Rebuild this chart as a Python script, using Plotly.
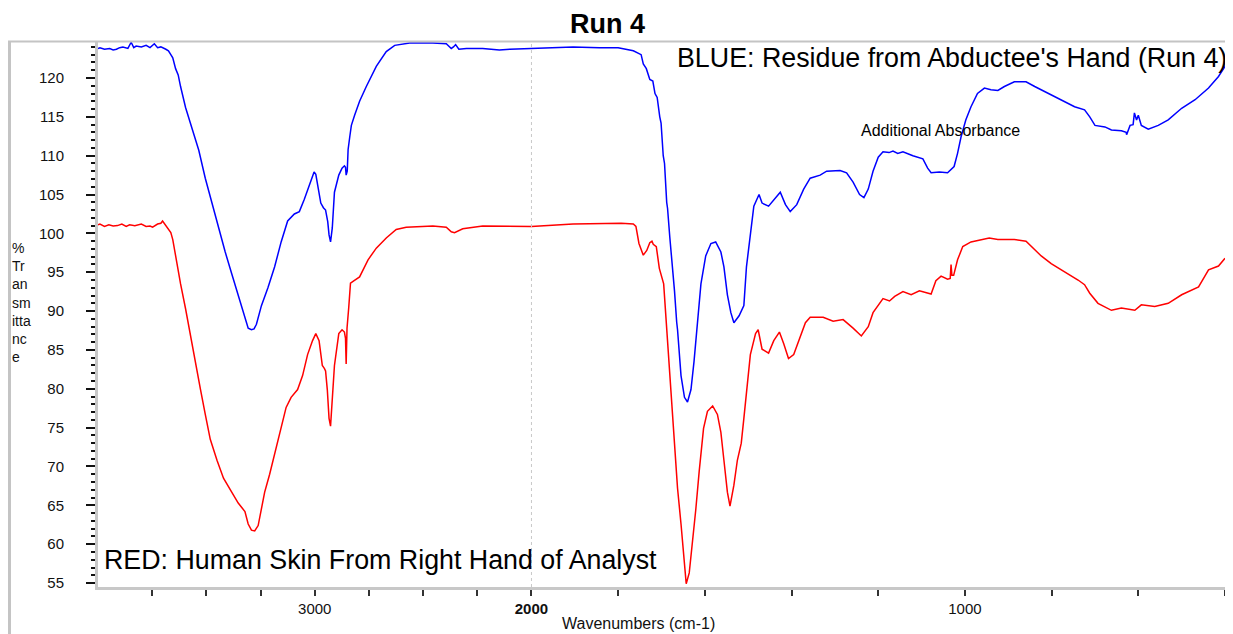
import numpy as np
import plotly.graph_objects as go

# ---------------- data (wavenumber cm-1, %T) ----------------
wn_blue = [4000, 3991, 3970, 3946, 3930, 3915, 3900, 3885, 3862, 3847, 3835, 3824, 3800, 3778,
           3760, 3740, 3725, 3710, 3687, 3675, 3664, 3655, 3642, 3630, 3619, 3596, 3565, 3535,
           3505, 3474, 3444, 3413, 3383, 3353, 3330, 3307, 3292, 3280, 3269, 3246, 3216, 3185,
           3155, 3125, 3094, 3071, 3048, 3026, 3003, 2995, 2988, 2972, 2960, 2950, 2940, 2934,
           2927, 2919, 2909, 2889, 2874, 2863, 2858, 2855, 2850, 2846, 2838, 2831, 2816, 2793,
           2762, 2716, 2670, 2631, 2562, 2455, 2393, 2370, 2360, 2350, 2335, 2300, 2225, 2148,
           2100, 2000, 1904, 1843, 1800, 1765, 1754, 1747, 1742, 1735, 1727, 1720, 1715, 1710,
           1704, 1701, 1696, 1693, 1688, 1686, 1681, 1678, 1673, 1670, 1665, 1663, 1655, 1647,
           1640, 1632, 1625, 1617, 1609, 1598, 1586, 1575, 1563, 1556, 1548, 1540, 1533, 1521,
           1510, 1504, 1495, 1487, 1475, 1468, 1453, 1437, 1426, 1414, 1403, 1388, 1372, 1357,
           1334, 1319, 1288, 1273, 1258, 1243, 1233, 1223, 1212, 1200, 1189, 1175, 1166, 1155,
           1143, 1120, 1097, 1086, 1078, 1059, 1040, 1025, 1017, 1009, 998, 986, 971, 955, 940,
           924, 909, 886, 859, 839, 808, 778, 747, 724, 712, 700, 677, 662, 639, 628, 627, 619,
           612, 609, 604, 600, 593, 577, 554, 531, 500, 469, 438, 415, 400]
t_blue = [123.8, 123.9, 123.7, 123.8, 123.6, 123.7, 123.9, 124.0, 123.8, 124.6, 123.9, 124.1,
          124.0, 124.2, 123.9, 124.4, 123.9, 124.0, 123.7, 123.5, 123.0, 122.6, 121.2, 120.4,
          118.9, 116.2, 113.4, 110.7, 107.1, 103.9, 100.7, 97.6, 94.8, 92.1, 89.8, 87.8, 87.6,
          87.7, 88.3, 90.7, 93.0, 95.7, 98.9, 101.6, 102.5, 102.8, 104.4, 106.2, 107.9, 107.6,
          106.6, 103.9, 103.3, 103.0, 101.5, 99.8, 98.9, 100.7, 105.3, 107.5, 108.4, 108.7,
          108.5, 107.5, 108.0, 110.8, 112.5, 113.9, 115.2, 117.0, 118.9, 121.5, 123.4, 124.2,
          124.5, 124.5, 124.4, 123.8, 124.0, 124.3, 123.7, 123.8, 123.8, 123.6, 123.7, 123.8,
          124.0, 123.9, 123.9, 123.5, 123.2, 123.0, 121.8, 121.2, 119.8, 119.6, 118.0, 117.5,
          115.0, 114.2, 110.0, 109.0, 104.0, 103.2, 99.6, 97.8, 95.2, 92.6, 88.6, 87.6, 81.7,
          78.9, 78.3, 79.9, 83.5, 88.9, 93.5, 97.1, 98.7, 98.9, 97.6, 95.7, 92.1, 89.8, 88.5,
          89.4, 90.7, 95.7, 99.8, 103.5, 105.0, 103.9, 103.5, 104.6, 105.3, 103.7, 102.8, 103.7,
          105.7, 107.1, 107.5, 108.0, 108.1, 107.8, 106.6, 105.0, 104.6, 105.7, 108.0, 109.8,
          110.5, 110.4, 110.6, 110.3, 110.5, 110.0, 109.6, 108.4, 107.8, 107.9, 107.8, 108.6,
          110.3, 112.4, 114.6, 116.3, 118.0, 118.7, 118.5, 118.4, 118.9, 119.5, 119.5, 118.9,
          118.0, 117.2, 116.3, 115.9, 115.0, 113.9, 113.7, 113.3, 113.2, 113.0, 112.7, 113.9,
          114.0, 115.5, 114.6, 115.2, 113.9, 113.4, 113.9, 114.6, 116.1, 117.2, 118.7, 120.2,
          121.5]

wn_red = [4000, 3991, 3970, 3950, 3930, 3910, 3890, 3870, 3854, 3830, 3800, 3778, 3760, 3748,
          3725, 3710, 3702, 3695, 3684, 3664, 3655, 3642, 3619, 3596, 3573, 3550, 3527, 3505,
          3482, 3451, 3421, 3383, 3353, 3322, 3315, 3307, 3292, 3277, 3261, 3246, 3231, 3208,
          3185, 3155, 3132, 3109, 3079, 3056, 3033, 3010, 2995, 2980, 2965, 2955, 2950, 2942,
          2934, 2927, 2919, 2909, 2889, 2874, 2863, 2858, 2855, 2851, 2843, 2835, 2820, 2793,
          2754, 2716, 2670, 2624, 2578, 2455, 2393, 2370, 2355, 2347, 2317, 2225, 2148, 2000,
          1904, 1793, 1765, 1759, 1752, 1742, 1734, 1727, 1722, 1719, 1712, 1708, 1705, 1695,
          1687, 1680, 1670, 1663, 1655, 1647, 1643, 1636, 1628, 1621, 1613, 1603, 1594, 1582,
          1571, 1563, 1556, 1548, 1542, 1533, 1525, 1516, 1510, 1502, 1495, 1483, 1477, 1468,
          1453, 1441, 1428, 1418, 1407, 1395, 1380, 1368, 1357, 1327, 1304, 1281, 1258, 1239,
          1223, 1212, 1189, 1174, 1162, 1143, 1124, 1105, 1078, 1067, 1055, 1040, 1034, 1032,
          1030, 1026, 1017, 1005, 986, 963, 944, 924, 886, 859, 839, 824, 801, 770, 739, 724,
          712, 693, 662, 639, 608, 593, 562, 531, 500, 461, 438, 415, 400]
t_red = [101.1, 101.2, 100.9, 101.1, 100.96, 101.0, 101.2, 100.9, 101.1, 101.0, 101.2, 100.9,
         100.95, 100.8, 101.2, 101.3, 101.6, 101.3, 100.96, 100.1, 99.2, 97.1, 93.5, 90.3, 86.7,
         83.0, 79.9, 76.7, 73.5, 70.8, 68.5, 66.7, 65.3, 64.2, 63.5, 62.6, 61.8, 61.7, 62.4,
         64.4, 66.7, 69.0, 71.7, 74.9, 77.6, 78.9, 79.9, 81.7, 84.4, 86.2, 87.1, 86.2, 83.0,
         82.6, 82.3, 79.9, 76.2, 75.2, 79.4, 83.0, 87.1, 87.6, 87.3, 86.5, 83.2, 87.8, 90.5,
         93.6, 93.9, 94.4, 96.6, 98.1, 99.4, 100.5, 100.8, 100.95, 100.8, 100.2, 100.1, 100.2,
         100.6, 100.95, 100.9, 100.9, 101.2, 101.3, 101.2, 100.9, 98.7, 97.2, 97.8, 98.8, 99.0,
         98.6, 98.3, 96.6, 95.5, 93.5, 87.1, 80.8, 73.0, 67.2, 62.6, 58.1, 54.9, 56.3, 60.3,
         64.4, 69.4, 74.9, 77.1, 77.8, 76.7, 74.4, 70.8, 66.7, 64.9, 67.6, 70.8, 73.0, 76.2,
         80.8, 84.4, 87.1, 87.6, 85.1, 84.6, 86.2, 87.3, 85.8, 83.9, 84.4, 86.7, 88.5, 89.2,
         89.2, 88.7, 88.9, 87.8, 86.8, 88.0, 89.8, 91.6, 91.3, 91.9, 92.5, 92.1, 92.6, 92.2,
         93.9, 94.5, 94.1, 94.2, 96.0, 94.6, 94.6, 96.6, 98.3, 98.9, 99.2, 99.4, 99.2, 99.2,
         99.0, 97.9, 97.1, 96.1, 95.1, 94.0, 93.4, 92.3, 91.0, 90.1, 90.4, 90.1, 90.8, 90.6,
         91.0, 92.1, 93.1, 95.3, 95.8, 96.8]

x_tick_wn = [3750, 3500, 3250, 3000, 2750, 2500, 2250, 2000,
             1800, 1600, 1400, 1200, 1000, 800, 600, 400]
x_labels = {3000: "3000", 2000: "<b>2000</b>", 1000: "1000"}
y_range = [54.49, 124.76]


# OMNIC-style split scale: region above 2000 cm-1 is compressed 2x
def to_pos(w):
    w = np.asarray(w, dtype=float)
    return np.where(w >= 2000, (4000 - w) / 2.0, 1000 + (2000 - w))


FONT = "Arial, Liberation Sans, sans-serif"

fig = go.Figure()
fig.add_trace(go.Scatter(x=to_pos(wn_red), y=t_red, mode="lines",
                         line=dict(color="#ff0000", width=1.5), showlegend=False))
fig.add_trace(go.Scatter(x=to_pos(wn_blue), y=t_blue, mode="lines",
                         line=dict(color="#0000ff", width=1.5), showlegend=False))

# page body adds an 8px margin, so the figure is 8px smaller each way
fig.update_layout(
    width=1225, height=626,
    margin=dict(l=90, r=8, t=33, b=47),
    paper_bgcolor="white", plot_bgcolor="white",
    font=dict(family=FONT, color="black"),
    xaxis=dict(range=[0, 2600], tickmode="array",
               tickvals=list(to_pos(x_tick_wn)),
               ticktext=[x_labels.get(w, "") for w in x_tick_wn],
               ticks="outside", ticklen=6, tickwidth=1.5, tickcolor="#333",
               showline=True, linecolor="#c8c8c8", linewidth=3,
               showgrid=False, zeroline=False,
               tickfont=dict(size=15, family=FONT, color="#111")),
    yaxis=dict(range=y_range, tick0=0, dtick=5,
               ticks="outside", ticklen=9, tickwidth=1.5, tickcolor="#111",
               minor=dict(dtick=1, ticks="outside", ticklen=4, tickwidth=1.5,
                          tickcolor="#111", showgrid=False),
               showline=True, linecolor="#c8c8c8", linewidth=3,
               showgrid=False, zeroline=False, ticklabelstandoff=19,
               tickfont=dict(size=15, family=FONT, color="#111")),
)

# dotted guide at 2000 cm-1
fig.add_shape(type="line", xref="x", yref="paper", x0=float(to_pos(2000)), x1=float(to_pos(2000)),
              y0=0, y1=1, line=dict(color="#c8c8c8", width=1, dash="dot"))

# helpers: reference-pixel position -> paper coords (plot area 98..1225 x 41..587)
W = 1127.0
H = 546.0
def px(xp):
    return (xp - 98) / W
def py(yp):
    return (587 - yp) / H

# outer frame
fig.add_shape(type="line", xref="paper", yref="paper", x0=px(9.5), x1=px(9.5), y0=py(634), y1=py(41),
              line=dict(color="#c4c4c4", width=3))
fig.add_shape(type="line", xref="paper", yref="paper", x0=px(8), x1=px(1230), y0=py(41.5), y1=py(41.5),
              line=dict(color="#c4c4c4", width=2))
fig.add_shape(type="line", xref="paper", yref="paper", x0=px(1228.5), x1=px(1228.5), y0=py(634), y1=py(41),
              line=dict(color="#bcbcbc", width=4))

ann = [
    dict(text="<b>Run 4</b>", x=px(607), y=py(24), xanchor="center", yanchor="middle",
         font=dict(size=27, family=FONT, color="black")),
    dict(text="BLUE: Residue from Abductee's Hand (Run 4)", x=px(1229), y=py(58),
         xanchor="right", yanchor="middle", font=dict(size=26.8, family=FONT, color="black")),
    dict(text="RED: Human Skin From Right Hand of Analyst", x=px(102), y=py(560),
         xanchor="left", yanchor="middle", font=dict(size=26.8, family=FONT, color="black")),
    dict(text="Additional Absorbance", x=px(859), y=py(131),
         xanchor="left", yanchor="middle", font=dict(size=16, family=FONT, color="black")),
    dict(text="Wavenumbers (cm-1)", x=px(638), y=py(623),
         xanchor="center", yanchor="middle", font=dict(size=16, family=FONT, color="#111")),
    dict(text="%<br>Tr<br>an<br>sm<br>itta<br>nc<br>e", x=px(10), y=py(302),
         xanchor="left", yanchor="middle", align="left",
         font=dict(size=14, family=FONT, color="#111")),
]
for a in ann:
    fig.add_annotation(xref="paper", yref="paper", showarrow=False, **a)

fig.write_html("out.html")
